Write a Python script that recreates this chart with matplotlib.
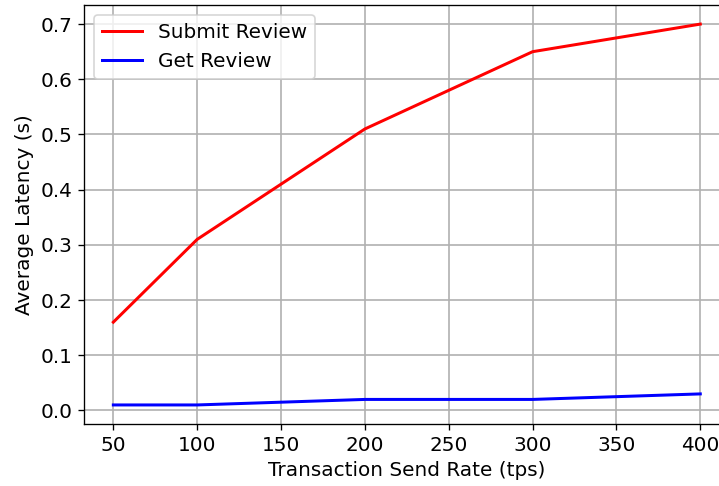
#!/usr/bin/env python3
# Average latency vs send rate for the two review transactions

import matplotlib
matplotlib.use("Agg")
import matplotlib.pyplot as plt

send_rate = [50, 100, 200, 300, 400]
submit_latency = [0.16, 0.31, 0.51, 0.65, 0.70]
get_latency = [0.01, 0.01, 0.02, 0.02, 0.03]


def plot(out="out.png"):
    plt.rcParams["font.size"] = 12
    fig = plt.figure(figsize=(719 / 120, 486 / 120), dpi=120)
    # the original was cropped tight, so the right spine sits just off the canvas
    ax = fig.add_axes([0.1168, 0.1276, 0.898, 0.862])
    ax.plot(send_rate, submit_latency, color="red", linewidth=1.8, label="Submit Review")
    ax.plot(send_rate, get_latency, color="blue", linewidth=1.8, label="Get Review")

    ax.set_xlabel("Transaction Send Rate (tps)")
    ax.set_ylabel("Average Latency (s)")
    ax.legend(loc="upper left", fontsize=12)
    ax.grid(True, linewidth=1)
    fig.savefig(out, dpi=120)
    print(f"saved {out}")


if __name__ == "__main__":
    plot()
